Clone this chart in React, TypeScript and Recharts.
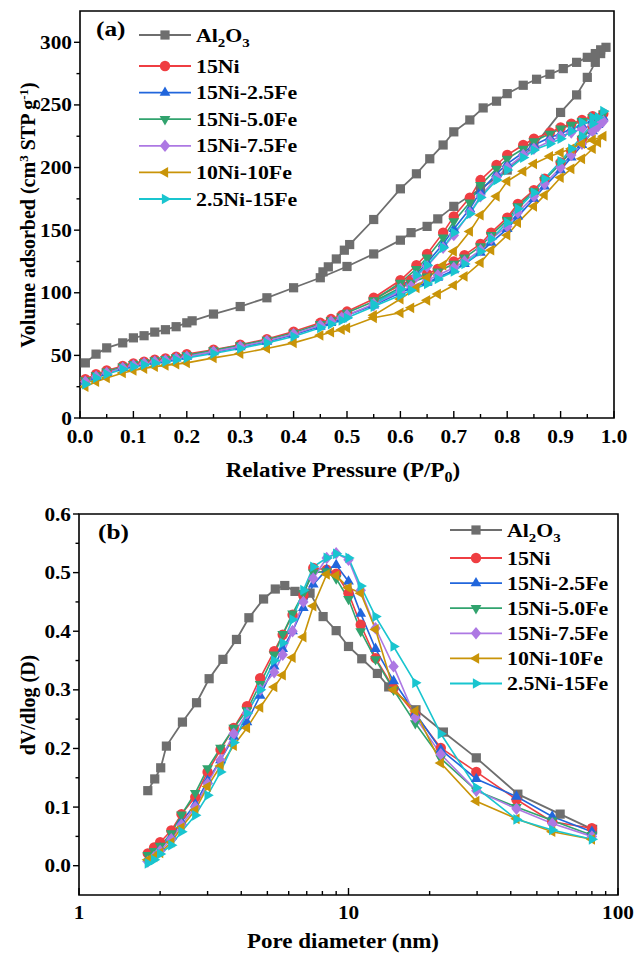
import React from 'react';
import { LineChart, Line, XAxis, YAxis, ReferenceArea } from 'recharts';

const FONT = '"Liberation Serif", "Times New Roman", serif';
const STRETCH = 1.15;

// sample names (legend order)
const sampleNames = ['Al2O3', '15Ni', '15Ni-2.5Fe', '15Ni-5.0Fe', '15Ni-7.5Fe', '10Ni-10Fe', '2.5Ni-15Fe'];

// ---- (a) N2 adsorption-desorption isotherms ----
const al2o3AdsP = [0.01, 0.03, 0.05, 0.08, 0.1, 0.12, 0.14, 0.16, 0.18, 0.2, 0.21, 0.25, 0.3, 0.35, 0.4, 0.45, 0.5, 0.55, 0.6, 0.62, 0.65, 0.67, 0.7, 0.75, 0.8, 0.85, 0.9, 0.93, 0.95, 0.965, 0.975, 0.985];
const al2o3AdsV = [44, 51, 56, 60, 64, 65.7, 68.6, 70.5, 72.9, 76, 77.6, 83, 89, 96, 104, 112, 121, 131, 142, 148, 153, 159, 169, 183, 198, 217, 244, 258, 272, 284, 291, 296];
const al2o3DesP = [0.975, 0.965, 0.95, 0.93, 0.905, 0.88, 0.855, 0.83, 0.8, 0.78, 0.755, 0.73, 0.7, 0.68, 0.655, 0.63, 0.6, 0.55, 0.505, 0.495, 0.48, 0.465, 0.455];
const al2o3DesV = [294, 291, 288, 284, 279, 274.5, 270.5, 265.7, 259, 253, 247.6, 238, 228.5, 218, 207, 195, 183, 158.5, 138.5, 134, 127, 120.7, 116.7];

const adsP = [0.01, 0.03, 0.05, 0.08, 0.1, 0.12, 0.14, 0.16, 0.18, 0.2, 0.25, 0.3, 0.35, 0.4, 0.45, 0.47, 0.49, 0.5, 0.55, 0.6, 0.62, 0.65, 0.67, 0.7, 0.72, 0.75, 0.77, 0.8, 0.82, 0.85, 0.87, 0.9, 0.92, 0.94, 0.96, 0.97, 0.98];
const desP = [0.96, 0.94, 0.92, 0.9, 0.88, 0.85, 0.83, 0.8, 0.78, 0.75, 0.73, 0.7, 0.68, 0.65, 0.63, 0.6, 0.55];

const ni15Ads = [31, 35, 38, 41.5, 43.5, 45, 46.5, 47.5, 49, 51, 54.5, 58.5, 63, 69, 76, 79, 82, 85, 95, 106, 110, 115, 119, 125, 130, 139, 148, 160, 171, 182, 191, 204, 213, 223, 233, 238, 243];
const ni15Des = [241, 238, 235, 232, 228, 223, 218, 210, 202, 190, 176, 161, 148, 131, 122, 110, 96];
const fe25Ads = [29, 33, 36, 40, 42, 43.5, 45, 46, 47.5, 49, 52.5, 56.5, 61, 66.5, 73, 76, 79, 82, 90, 100, 104, 108, 112, 118, 123, 132, 140, 151, 161, 175, 185, 198, 208, 218, 229, 234, 240];
const fe25Des = [238, 234, 231, 227, 224, 218, 212, 203, 195, 181, 167, 151, 139, 124, 115, 104, 91];
const fe50Ads = [30, 34, 37, 41, 43, 44.5, 46, 47, 48.5, 50, 54, 58, 62.5, 68, 75, 78, 81, 84, 93, 104, 108, 113, 117, 123, 128, 137, 146, 158, 169, 181, 190, 203, 213, 223, 233, 238, 243];
const fe50Des = [240, 237, 234, 231, 227, 221, 215, 207, 199, 186, 172, 157, 144, 128, 119, 108, 94];
const fe75Ads = [29, 33, 36, 40, 42, 43.5, 45, 46, 47.5, 49, 53, 57, 61.5, 67, 74, 77, 80, 82, 91, 101, 105, 110, 114, 120, 125, 134, 143, 153, 164, 177, 187, 200, 210, 219, 229, 233, 237];
const fe75Des = [234, 231, 228, 225, 221, 215, 210, 200, 192, 177, 164, 146, 136, 121, 113, 103, 90];
const ni10Ads = [25, 29, 32, 36, 38, 39.5, 41, 42, 43, 44, 48, 51.5, 55.5, 60, 66, 68.5, 70.5, 72, 80, 84, 88, 94, 99, 106, 113, 124, 134, 146, 156, 169, 178, 192, 199, 207, 215, 220, 225];
const ni10Des = [222, 219, 215, 212, 209, 203, 197, 189, 177, 162, 149, 133, 122, 112, 104, 95, 82];
const ni25Ads = [27, 32, 35, 39, 41, 42.5, 44, 45, 46.5, 48, 51.5, 55.5, 60, 65, 72, 75, 78, 80, 89, 98, 102, 107, 111, 117, 123, 133, 143, 156, 167, 180, 191, 205, 215, 225, 235, 240, 245];
const ni25Des = [240, 236, 229, 223, 219, 214, 208, 198, 190, 176, 163, 148, 136, 122, 114, 103, 91];

// ---- (b) BJH pore size distribution ----
const al2o3PoreD = [1.8, 1.91, 2.01, 2.11, 2.42, 2.73, 3.04, 3.42, 3.84, 4.27, 4.84, 5.35, 5.8, 6.33, 7.2, 8.05, 9.0, 10.0, 11.2, 12.8, 14.1, 17.8, 22.5, 29.8, 42.5, 61, 80.5];
const al2o3PoreV = [0.128, 0.148, 0.167, 0.204, 0.245, 0.278, 0.319, 0.352, 0.386, 0.423, 0.455, 0.472, 0.478, 0.468, 0.465, 0.425, 0.401, 0.374, 0.353, 0.328, 0.305, 0.266, 0.228, 0.184, 0.122, 0.088, 0.062];
const poreD = [1.8, 1.9, 2.0, 2.2, 2.4, 2.7, 3.0, 3.35, 3.75, 4.2, 4.7, 5.3, 5.7, 6.2, 6.8, 7.4, 8.3, 9.0, 10.0, 11.1, 12.6, 14.7, 17.7, 22, 29.8, 42, 57, 80];
const ni15Pore = [0.021, 0.031, 0.04, 0.06, 0.088, 0.117, 0.16, 0.198, 0.235, 0.272, 0.32, 0.366, 0.394, 0.428, 0.461, 0.508, 0.505, 0.498, 0.465, 0.411, 0.354, 0.303, 0.258, 0.201, 0.16, 0.113, 0.075, 0.064];
const fe25Pore = [0.012, 0.02, 0.03, 0.05, 0.075, 0.105, 0.145, 0.18, 0.22, 0.245, 0.29, 0.34, 0.37, 0.4, 0.44, 0.48, 0.505, 0.513, 0.485, 0.43, 0.37, 0.315, 0.26, 0.198, 0.148, 0.118, 0.084, 0.058];
const fe50Pore = [0.018, 0.025, 0.034, 0.055, 0.087, 0.124, 0.166, 0.201, 0.235, 0.265, 0.31, 0.36, 0.395, 0.43, 0.465, 0.5, 0.502, 0.49, 0.455, 0.4, 0.352, 0.3, 0.243, 0.183, 0.128, 0.1, 0.077, 0.052];
const fe75Pore = [0.007, 0.015, 0.025, 0.045, 0.07, 0.1, 0.14, 0.18, 0.225, 0.26, 0.3, 0.33, 0.36, 0.4, 0.45, 0.49, 0.525, 0.533, 0.522, 0.47, 0.405, 0.34, 0.253, 0.19, 0.128, 0.097, 0.072, 0.05];
const ni10Pore = [0.01, 0.015, 0.022, 0.04, 0.065, 0.095, 0.135, 0.17, 0.205, 0.235, 0.27, 0.305, 0.325, 0.355, 0.39, 0.443, 0.497, 0.495, 0.474, 0.465, 0.403, 0.3, 0.264, 0.175, 0.11, 0.08, 0.058, 0.045];
const ni25Pore = [0.004, 0.01, 0.02, 0.035, 0.058, 0.086, 0.12, 0.16, 0.21, 0.26, 0.3, 0.35, 0.38, 0.42, 0.47, 0.51, 0.525, 0.532, 0.525, 0.477, 0.425, 0.374, 0.312, 0.225, 0.133, 0.079, 0.061, 0.045];

// ---- ticks ----
const pressureMajor = [0, 0.1, 0.2, 0.3, 0.4, 0.5, 0.6, 0.7, 0.8, 0.9, 1.0];
const pressureMinor = [0.05, 0.15, 0.25, 0.35, 0.45, 0.55, 0.65, 0.75, 0.85, 0.95];
const volumeMajor = [0, 50, 100, 150, 200, 250, 300];
const volumeMinor = [25, 75, 125, 175, 225, 275];
const diameterMajor = [1, 10, 100];
const diameterMinor = [2, 3, 4, 5, 6, 7, 8, 9, 20, 30, 40, 50, 60, 70, 80, 90];
const dvMajor = [0, 0.1, 0.2, 0.3, 0.4, 0.5, 0.6];
const dvMinor = [0.05, 0.15, 0.25, 0.35, 0.45, 0.55];

// ---- styles ----
const sampleStyle = [
  { color: '#6e6e6e', shape: 'square', width: 1.8 },
  { color: '#ef3e42', shape: 'circle', width: 1.6 },
  { color: '#2166dc', shape: 'up', width: 1.6 },
  { color: '#31a36e', shape: 'down', width: 1.6 },
  { color: '#ad78e3', shape: 'diamond', width: 1.6 },
  { color: '#c99408', shape: 'left', width: 1.6 },
  { color: '#19c5cf', shape: 'right', width: 1.6 },
];

const toPoints = (xs: number[], ys: number[]) => xs.map((x, i) => ({ x, y: ys[i] }));
const isotherm = (aP: number[], aV: number[], dP: number[], dV: number[]) => [...toPoints(aP, aV), ...toPoints(dP, dV)];

const isoSeries = [
  isotherm(al2o3AdsP, al2o3AdsV, al2o3DesP, al2o3DesV),
  isotherm(adsP, ni15Ads, desP, ni15Des),
  isotherm(adsP, fe25Ads, desP, fe25Des),
  isotherm(adsP, fe50Ads, desP, fe50Des),
  isotherm(adsP, fe75Ads, desP, fe75Des),
  isotherm(adsP, ni10Ads, desP, ni10Des),
  isotherm(adsP, ni25Ads, desP, ni25Des),
];

const poreSeries = [
  toPoints(al2o3PoreD, al2o3PoreV),
  toPoints(poreD, ni15Pore),
  toPoints(poreD, fe25Pore),
  toPoints(poreD, fe50Pore),
  toPoints(poreD, fe75Pore),
  toPoints(poreD, ni10Pore),
  toPoints(poreD, ni25Pore),
];

function Marker({ cx, cy, shape, color }: any) {
  if (cx == null || cy == null || isNaN(cx) || isNaN(cy)) return null;
  const r = 6.2;
  const h = 0.866 * r;
  switch (shape) {
    case 'square':
      return <rect x={cx - 4.6} y={cy - 4.6} width={9.2} height={9.2} fill={color} />;
    case 'circle':
      return <circle cx={cx} cy={cy} r={5.2} fill={color} />;
    case 'up':
      return <polygon points={`${cx},${cy - r} ${cx + h},${cy + r / 2} ${cx - h},${cy + r / 2}`} fill={color} />;
    case 'down':
      return <polygon points={`${cx},${cy + r} ${cx + h},${cy - r / 2} ${cx - h},${cy - r / 2}`} fill={color} />;
    case 'left':
      return <polygon points={`${cx - r},${cy} ${cx + r / 2},${cy - h} ${cx + r / 2},${cy + h}`} fill={color} />;
    case 'right':
      return <polygon points={`${cx + r},${cy} ${cx - r / 2},${cy - h} ${cx - r / 2},${cy + h}`} fill={color} />;
    default:
      return <polygon points={`${cx},${cy - 6.2} ${cx + 5.2},${cy} ${cx},${cy + 6.2} ${cx - 5.2},${cy}`} fill={color} />;
  }
}

const makeDot = (shape: string, color: string) => (p: any) => (
  <Marker key={`d${p.index}`} cx={p.cx} cy={p.cy} shape={shape} color={color} />
);

const tickText = { fontFamily: FONT, fontWeight: 700, fontSize: 18.5, fill: '#000' } as const;

const makeXTick = (majors: number[], fmt: (v: number) => string, dy: number) => (p: any) => {
  const { x, y, payload } = p;
  const major = majors.includes(payload.value);
  return (
    <g>
      <line x1={x} x2={x} y1={y} y2={y - (major ? 7 : 4)} stroke="#000" strokeWidth={1.4} />
      {major && (
        <text transform={`translate(${x},${y + dy}) scale(${STRETCH},1)`} textAnchor="middle" {...tickText}>
          {fmt(payload.value)}
        </text>
      )}
    </g>
  );
};

const makeYTick = (majors: number[], fmt: (v: number) => string) => (p: any) => {
  const { x, y, payload } = p;
  const major = majors.includes(payload.value);
  return (
    <g>
      <line x1={x - (major ? 6 : 3.5)} x2={x} y1={y} y2={y} stroke="#000" strokeWidth={1.4} />
      {major && (
        <text transform={`translate(${x - 8},${y + 6.5}) scale(${STRETCH},1)`} textAnchor="end" {...tickText}>
          {fmt(payload.value)}
        </text>
      )}
    </g>
  );
};

const byValue = (a: number, b: number) => a - b;

function SampleLabel({ name }: { name: string }) {
  if (name === 'Al2O3') {
    return (
      <>
        Al<tspan dy={5} fontSize={13}>2</tspan>
        <tspan dy={-5}>O</tspan>
        <tspan dy={5} fontSize={13}>3</tspan>
      </>
    );
  }
  return <>{name}</>;
}

function LegendBlock({ x, y0, firstGap, gap }: any) {
  return (
    <g>
      {sampleNames.map((name, i) => {
        const st = sampleStyle[i];
        const cy = y0 + (i === 0 ? 0 : firstGap + (i - 1) * gap);
        return (
          <g key={name}>
            <line x1={x} x2={x + 52} y1={cy} y2={cy} stroke={st.color} strokeWidth={1.8} />
            <Marker cx={x + 26} cy={cy} shape={st.shape} color={st.color} />
            <text
              transform={`translate(${x + 57},${cy + 6.5}) scale(${STRETCH},1)`}
              fontFamily={FONT}
              fontWeight={700}
              fontSize={19}
            >
              <SampleLabel name={name} />
            </text>
          </g>
        );
      })}
    </g>
  );
}

const titleStyle = { fontFamily: FONT, fontWeight: 700, fontSize: 20, fill: '#000' } as const;

function Overlay() {
  return (
    <svg width={634} height={957} style={{ position: 'absolute', left: 0, top: 0, pointerEvents: 'none' }}>
      {/* panel letters */}
      <text transform={`translate(96,36) scale(${STRETCH},1)`} {...titleStyle} fontSize={22}>(a)</text>
      <text transform={`translate(98,539) scale(${STRETCH},1)`} {...titleStyle} fontSize={22}>(b)</text>

      {/* axis titles */}
      <text transform={`translate(343,477) scale(${STRETCH},1)`} textAnchor="middle" {...titleStyle}>
        Relative Pressure (P/P<tspan dy={5} fontSize={14}>0</tspan><tspan dy={-5}>)</tspan>
      </text>
      <text transform="translate(35,215) rotate(-90)" textAnchor="middle" {...titleStyle}>
        Volume adsorbed (cm<tspan dy={-7} fontSize={13}>3</tspan>
        <tspan dy={7}> STP g</tspan>
        <tspan dy={-7} fontSize={13}>-1</tspan>
        <tspan dy={7}>)</tspan>
      </text>
      <text transform={`translate(343,948) scale(${STRETCH},1)`} textAnchor="middle" {...titleStyle}>
        Pore diameter (nm)
      </text>
      <text transform="translate(35,705) rotate(-90)" textAnchor="middle" {...titleStyle}>
        dV/dlog (D)
      </text>

      <LegendBlock x={139} y0={35} firstGap={31} gap={26.6} />
      <LegendBlock x={450} y0={530} firstGap={28} gap={25.1} />
    </svg>
  );
}

export default function App() {
  const pressureTicks = [...pressureMajor, ...pressureMinor].sort(byValue);
  const volumeTicks = [...volumeMajor, ...volumeMinor].sort(byValue);
  const diameterTicks = [...diameterMajor, ...diameterMinor].sort(byValue);
  const dvTicks = [...dvMajor, ...dvMinor].sort(byValue);

  return (
    <div style={{ position: 'absolute', left: 0, top: 0, width: 634, height: 957, background: '#fff' }}>
      <div style={{ position: 'absolute', left: 0, top: 0 }}>
        <LineChart width={634} height={480} margin={{ top: 11, right: 20, bottom: 22, left: 20 }}>
          <XAxis
            type="number"
            dataKey="x"
            domain={[0, 1]}
            ticks={pressureTicks}
            interval={0}
            allowDataOverflow
            axisLine={false}
            tickLine={false}
            tickSize={0}
            tickMargin={0}
            height={40}
            tick={makeXTick(pressureMajor, (v) => v.toFixed(1), 25)}
          />
          <YAxis
            type="number"
            domain={[0, 325]}
            ticks={volumeTicks}
            interval={0}
            allowDataOverflow
            axisLine={false}
            tickLine={false}
            tickSize={0}
            tickMargin={0}
            width={60}
            tick={makeYTick(volumeMajor, (v) => String(v))}
          />
          <ReferenceArea x1={0} x2={1} y1={0} y2={325} fill="none" stroke="#000" strokeWidth={1.6} />
          {isoSeries.map((data, i) => (
            <Line
              key={sampleNames[i]}
              data={data}
              dataKey="y"
              type="linear"
              stroke={sampleStyle[i].color}
              strokeWidth={sampleStyle[i].width}
              dot={makeDot(sampleStyle[i].shape, sampleStyle[i].color)}
              activeDot={false}
              isAnimationActive={false}
            />
          ))}
        </LineChart>
      </div>

      <div style={{ position: 'absolute', left: 0, top: 490 }}>
        <LineChart width={634} height={467} margin={{ top: 24, right: 16, bottom: 22, left: 19 }}>
          <XAxis
            type="number"
            dataKey="x"
            scale="log"
            domain={[1, 100]}
            ticks={diameterTicks}
            interval={0}
            allowDataOverflow
            axisLine={false}
            tickLine={false}
            tickSize={0}
            tickMargin={0}
            height={40}
            tick={makeXTick(diameterMajor, (v) => String(v), 24)}
          />
          <YAxis
            type="number"
            domain={[-0.05, 0.6]}
            ticks={dvTicks}
            interval={0}
            allowDataOverflow
            axisLine={false}
            tickLine={false}
            tickSize={0}
            tickMargin={0}
            width={60}
            tick={makeYTick(dvMajor, (v) => v.toFixed(1))}
          />
          <ReferenceArea x1={1} x2={100} y1={-0.05} y2={0.6} fill="none" stroke="#000" strokeWidth={1.6} />
          {poreSeries.map((data, i) => (
            <Line
              key={sampleNames[i]}
              data={data}
              dataKey="y"
              type="linear"
              stroke={sampleStyle[i].color}
              strokeWidth={sampleStyle[i].width}
              dot={makeDot(sampleStyle[i].shape, sampleStyle[i].color)}
              activeDot={false}
              isAnimationActive={false}
            />
          ))}
        </LineChart>
      </div>

      <Overlay />
    </div>
  );
}
